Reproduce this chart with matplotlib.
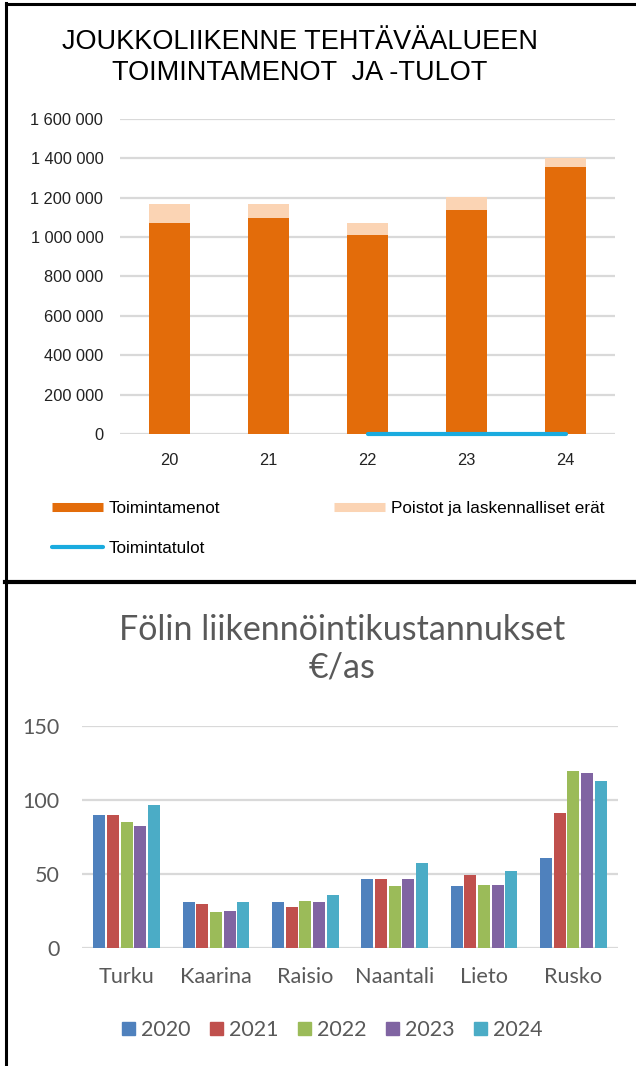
import numpy as np
import matplotlib.pyplot as plt
from matplotlib.lines import Line2D
from matplotlib.patches import Patch

# top chart data
vuodet = ["20", "21", "22", "23", "24"]
toimintamenot = [1070000, 1095000, 1010000, 1140000, 1357000]
poistot = [97000, 72000, 63000, 62000, 47000]
toimintatulot = [np.nan, np.nan, 0, 0, 0]

# bottom chart data
kunnat = ["Turku", "Kaarina", "Raisio", "Naantali", "Lieto", "Rusko"]
sarjat = ["2020", "2021", "2022", "2023", "2024"]
v2020 = [89.6, 31.2, 31.2, 46.8, 41.6, 60.9]
v2021 = [89.6, 29.4, 27.8, 46.8, 49.5, 91.2]
v2022 = [85.3, 24.2, 31.9, 41.6, 42.5, 119.9]
v2023 = [82.6, 25.1, 31.2, 46.8, 42.5, 118.1]
v2024 = [96.4, 31.2, 35.5, 57.2, 52.0, 112.9]
arvot = [v2020, v2021, v2022, v2023, v2024]
varit = ["#4F81BD", "#C0504D", "#9BBB59", "#8064A2", "#4BACC6"]

W, H = 636, 1066
fig = plt.figure(figsize=(W / 100, H / 100), dpi=100)

def fx(px):
    return px / W

def fy(py):
    return 1 - py / H

arial = ["Liberation Sans", "DejaVu Sans"]
grid_c = "#D9D9D9"

# ---- top chart ----
ax1 = fig.add_axes([fx(120), fy(434), fx(495), (434 - 119) / H])
x = np.arange(len(vuodet))
ax1.bar(x, toimintamenot, width=0.41, color="#E36C0A", zorder=2)
ax1.bar(x, poistot, width=0.41, bottom=toimintamenot, color="#FBD4B4", zorder=2)
ax1.plot(x, toimintatulot, color="#1AABDF", lw=3, solid_capstyle="round",
         zorder=3, clip_on=False)
ax1.set_xlim(-0.5, 4.5)
ax1.set_ylim(0, 1600000)
ax1.set_yticks(range(0, 1600001, 200000))
ax1.set_yticklabels([f"{v:,}".replace(",", " ") for v in range(0, 1600001, 200000)],
                    family=arial, fontsize=11.8, color="#222222")
ax1.set_xticks(x)
ax1.set_xticklabels(vuodet, family=arial, fontsize=11.8, color="#222222")
ax1.tick_params(length=0)
ax1.tick_params(axis="y", pad=12)
ax1.tick_params(axis="x", pad=14)
ax1.yaxis.grid(True, color=grid_c, lw=1.6, zorder=0)
for s in ax1.spines.values():
    s.set_visible(False)

fig.text(fx(300), fy(57.5), "JOUKKOLIIKENNE TEHTÄVÄALUEEN\nTOIMINTAMENOT  JA -TULOT",
         ha="center", va="center", family=arial, fontsize=19.5, linespacing=1.25)

handles = [Line2D([], [], color="#E36C0A", lw=6.5, solid_capstyle="butt"),
           Line2D([], [], color="#1AABDF", lw=3, solid_capstyle="round"),
           Line2D([], [], color="#FBD4B4", lw=6.5, solid_capstyle="butt")]
labels = ["Toimintamenot", "Toimintatulot", "Poistot ja laskennalliset erät"]
fig.legend(handles, labels, ncol=2, loc="upper left", bbox_to_anchor=(fx(36.5), fy(486)),
           frameon=False, prop={"family": arial, "size": 12.3},
           handlelength=3.0, handletextpad=0.3, columnspacing=6.7, labelspacing=1.42)

# ---- bottom chart ----
gray = "#595959"
ax2 = fig.add_axes([fx(82), fy(948), fx(536), (948 - 726) / H])
n = len(sarjat)
bw = 0.132
step = 0.153
xk = np.arange(len(kunnat))
for i, (lab, vals, c) in enumerate(zip(sarjat, arvot, varit)):
    ax2.bar(xk + (i - (n - 1) / 2) * step, vals, width=bw, color=c, label=lab, zorder=2)
ax2.set_xlim(-0.5, 5.5)
ax2.set_ylim(0, 150)
ax2.set_yticks([0, 50, 100, 150])
ax2.set_yticklabels(["0", "50", "100", "150"], family="Lato", fontsize=15.5, color=gray)
ax2.set_xticks(xk)
ax2.set_xticklabels(kunnat, family="Lato", fontsize=15.6, color=gray)
ax2.tick_params(length=0)
ax2.tick_params(axis="y", pad=16)
ax2.tick_params(axis="x", pad=14)
ax2.yaxis.grid(True, color=grid_c, lw=1.6, zorder=0)
for s in ax2.spines.values():
    s.set_visible(False)

fig.text(fx(342), fy(648.5), "Fölin liikennöintikustannukset\n€/as", ha="center", va="center",
         family="Lato", fontsize=24.5, color=gray, linespacing=1.2)

leg_h = [Patch(color=c) for c in varit]
fig.legend(leg_h, sarjat, ncol=5, loc="center", bbox_to_anchor=(fx(332.5), fy(1030)),
           frameon=False, prop={"family": "Lato", "size": 15.4}, labelcolor=gray,
           handlelength=0.6, handleheight=0.6, handletextpad=0.3, columnspacing=0.9)

# borders
fig.add_artist(Line2D([fx(6), 1], [fy(4), fy(4)], color="black", lw=2.2))
fig.add_artist(Line2D([fx(6), fx(6)], [fy(3), 0], color="black", lw=2.2))
fig.add_artist(Line2D([fx(5), 1], [fy(582), fy(582)], color="black", lw=3))

fig.savefig("out.png", dpi=100)
